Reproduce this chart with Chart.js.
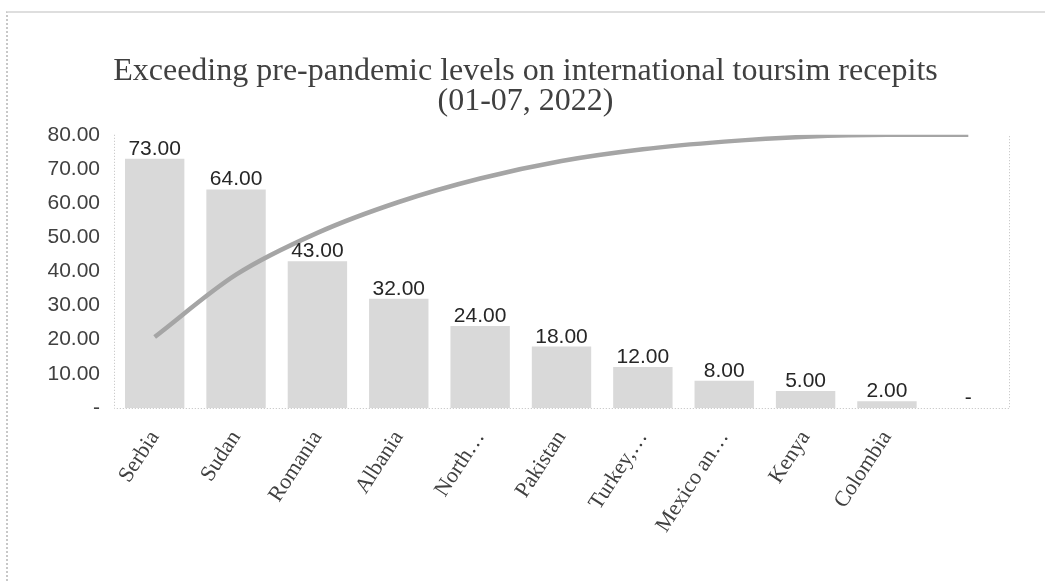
<!DOCTYPE html>
<html>
<head>
<meta charset="utf-8">
<script src="https://cdn.jsdelivr.net/npm/chart.js@4"></script>
<style>
  html, body { margin: 0; padding: 0; background: #fff; overflow: hidden; }
  #frame { position: absolute; left: 6px; top: 11px; width: 1120px; height: 640px;
           border-top: 2px solid #dedede; border-left: 2px dotted #c8c8c8; }
  #wrap { position: absolute; left: 0; top: 0; width: 1045px; height: 581px; }
</style>
</head>
<body>
<div id="frame"></div>
<div id="wrap"><canvas id="c"></canvas></div>
<script>
// Categories (labels truncated as in the source workbook)
const countries = ['Serbia', 'Sudan', 'Romania', 'Albania', 'North\u2026', 'Pakistan', 'Turkey,\u2026', 'Mexico an\u2026', 'Kenya', 'Colombia', ''];
// % above 2019 receipts
const receiptsAbove2019 = [73, 64, 43, 32, 24, 18, 12, 8, 5, 2, 0];
// Cumulative share of the total, plotted on a hidden 0-100 scale
const cumulativeShare = [26.0, 48.8, 64.1, 75.4, 84.0, 90.4, 94.7, 97.5, 99.3, 100, 100];
// Left axis tick values
const yTickValues = [0, 10, 20, 30, 40, 50, 60, 70, 80];

const fmt = v => (v === 0 ? '-' : v.toFixed(2));

// Dotted frame around the plot area (left, right, bottom)
const plotFrame = {
  id: 'plotFrame',
  beforeDatasetsDraw(chart) {
    const { ctx, chartArea: a } = chart;
    ctx.save();
    ctx.strokeStyle = '#bfbfbf';
    ctx.lineWidth = 1;
    ctx.setLineDash([1, 2]);
    ctx.beginPath();
    ctx.moveTo(a.left + 0.5, a.top);
    ctx.lineTo(a.left + 0.5, a.bottom + 0.5);
    ctx.lineTo(a.right + 0.5, a.bottom + 0.5);
    ctx.lineTo(a.right + 0.5, a.top);
    ctx.stroke();
    ctx.restore();
  }
};

// Value labels above each bar
const barValues = {
  id: 'barValues',
  afterDatasetsDraw(chart) {
    const { ctx } = chart;
    const idx = chart.data.datasets.findIndex(d => d.type === 'bar');
    const meta = chart.getDatasetMeta(idx);
    ctx.save();
    ctx.font = '21px "Liberation Sans"';
    ctx.fillStyle = '#262626';
    ctx.textAlign = 'center';
    ctx.textBaseline = 'alphabetic';
    meta.data.forEach((bar, i) => {
      ctx.fillText(fmt(receiptsAbove2019[i]), bar.x, bar.y - 4);
    });
    ctx.restore();
  }
};

new Chart(document.getElementById('c'), {
  data: {
    labels: countries,
    datasets: [
      {
        type: 'line',
        data: cumulativeShare,
        yAxisID: 'y2',
        borderColor: '#a5a5a5',
        borderWidth: 4.5,
        pointRadius: 0,
        cubicInterpolationMode: 'monotone',
        fill: false,
        order: 0
      },
      {
        type: 'bar',
        data: receiptsAbove2019,
        yAxisID: 'y',
        backgroundColor: '#d9d9d9',
        barPercentage: 0.73,
        categoryPercentage: 1.0,
        order: 1
      }
    ]
  },
  options: {
    responsive: true,
    maintainAspectRatio: false,
    animation: false,
    layout: { padding: { left: 42, right: 36, top: 0, bottom: 0 } },
    plugins: {
      legend: { display: false },
      tooltip: { enabled: false },
      title: {
        display: true,
        text: ['Exceeding pre-pandemic levels on international toursim recepits', '(01-07, 2022)'],
        color: '#404040',
        font: { family: '"Liberation Serif"', size: 32, weight: 'normal', lineHeight: 0.95 },
        padding: { top: 56, bottom: 18 }
      }
    },
    scales: {
      x: {
        grid: { display: false },
        border: { display: false },
        ticks: {
          color: '#404040',
          font: { family: '"Liberation Serif"', size: 22 },
          minRotation: 57,
          maxRotation: 57,
          padding: 10,
          autoSkip: false
        },
        afterFit(scale) { scale.height = 173; }
      },
      y: {
        min: 0,
        max: 80,
        afterBuildTicks(scale) { scale.ticks = yTickValues.map(v => ({ value: v })); },
        grid: { display: false },
        border: { display: false },
        ticks: {
          color: '#404040',
          font: { family: '"Liberation Sans"', size: 21 },
          padding: 6,
          callback: v => fmt(v)
        },
        afterFit(scale) { scale.width = 72; }
      },
      y2: {
        display: false,
        min: 0,
        max: 100
      }
    }
  },
  plugins: [plotFrame, barValues]
});
</script>
</body>
</html>
